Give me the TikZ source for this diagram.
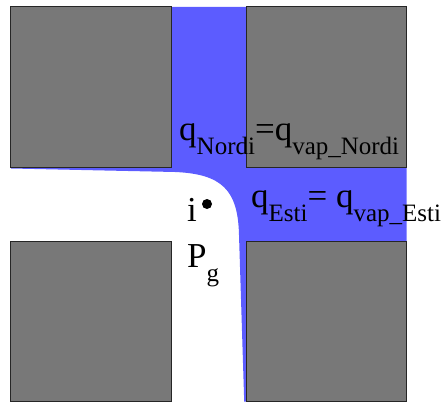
\documentclass[tikz,border=0pt]{standalone}
\usepackage{fontspec}
\setmainfont{Liberation Serif}
\usetikzlibrary{positioning}
\definecolor{flowblue}{RGB}{92,92,255}
\definecolor{blockgray}{RGB}{120,120,120}
\newcommand{\subtxt}[1]{\raisebox{-14pt}{\fontsize{25pt}{25pt}\selectfont #1}}

\begin{document}
\begin{tikzpicture}[x=1pt, y=-1pt,
  block/.style={minimum size=160pt, inner sep=0pt},
  lbl/.style={inner sep=0pt, anchor=base west, font=\fontsize{35pt}{35pt}\selectfont}
]
\useasboundingbox (0,0) rectangle (443,403);

\node[block] (nw) at (91,87) {};
\node[block, right=75pt of nw] (ne) {};
\node[block, below=74pt of nw] (sw) {};
\node[block, right=75pt of sw] (se) {};

% wet zone between the blocks
\fill[flowblue] (nw.north east) -- (ne.north west) -- (ne.south west) -- (ne.south east)
  -- (se.north east) -- (se.north west) -- (se.south west) -- ++(-2,0)
  -- (239,235) .. controls (238,190) and (222,174) .. (175,172) -- (11,168.5)
  -- (nw.south west) -- (nw.south east) -- cycle;
\foreach \b in {nw,ne,sw,se}
  \draw[draw=black!85, fill=blockgray, line width=0.8pt] (\b.north west) rectangle (\b.south east);

\node[lbl] (qn) at (179,141) {q\subtxt{Nordi}=q\subtxt{vap\_Nordi}};
\node[lbl] (qe) at (251,207) {q\subtxt{Esti}= q\subtxt{vap\_Esti}};
\node[lbl] (i) at (187,221) {i};
\node[circle, fill=black, inner sep=0pt, minimum size=10pt] (pt) at (207,204) {};
\node[lbl] (pg) at (187,267) {P\subtxt{g}};
\end{tikzpicture}
\end{document}
